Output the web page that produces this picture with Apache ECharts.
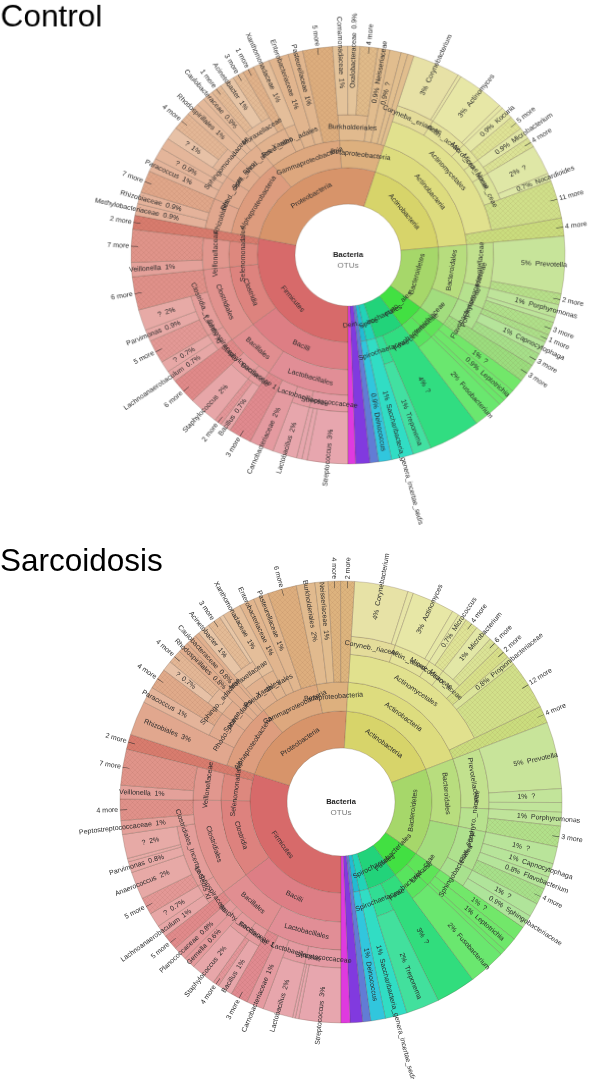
<!DOCTYPE html>
<html>
<head>
<meta charset="utf-8">
<title>Control vs Sarcoidosis</title>
<style>
html,body{margin:0;background:#fff;overflow:hidden}
.panel{position:absolute;left:0;top:0;width:596px;height:1079px}
/* the Control wheel is a little squashed in the original */
#control{transform-origin:348px 255px;transform:scale(1.019,0.981)}
</style>
<script src="https://cdn.jsdelivr.net/npm/echarts@6/dist/echarts.min.js"></script>
</head>
<body>
<div id="control" class="panel"></div>
<div id="sarcoidosis" class="panel"></div>
<script>
// a node is [label, percent] for a leaf or [label, [children]] for a group
const controlFirmicutes = ['Firmicutes', [
  ['Bacilli', [
    ['Lactobacillales', [
      ['Streptococcaceae', [['Streptococcus  3%', 3.0], ['', 0.4], ['', 0.4]]],
      ['Lactobacillaceae', [['Lactobacillus  2%', 1.8]]],
      ['Carnobacteriaceae  2%', 1.8],
      ['3 more', 1.7]]],
    ['Bacillales', [
      ['Bacillaceae 1', [['Bacillus  0.7%', 0.8], ['2 more', 0.55]]],
      ['Staphylococcaceae', [['Staphylococcus  2%', 2.2]]],
      ['6 more', 1.95]]]]],
  ['Clostridia', [
    ['Clostridiales', [
      ['Lachnospiraceae', [['Lachnoanaerobaculum  0.7%', 0.9], ['?  0.7%', 0.85]]],
      ['Clostridia._e Sedis XI', [['5 more', 1.8], ['Parvimonas  0.9%', 0.9], ['?  2%', 1.6]]],
      ['6 more', 2.55]]]]],
  ['Selenomonadales', [
    ['Veillonellaceae', [['Veillonella  1%', 1.1], ['7 more', 2.5]]]]],
  ['2 more', 1.1]]]
const controlProteobacteria = ['Proteobacteria', [
  ['Alphaproteobacteria', [
    ['Rhizobiales', [['Methylobacteriaceae  0.9%', 0.9], ['Rhizobiaceae  0.9%', 0.9], ['7 more', 1.7]]],
    ['Rhod._ceae', [['Paracoccus  1%', 1.05], ['?  0.9%', 0.9], ['', 0.85]]],
    ['Sphi._ales', [['Sphingomonadaceae', [['?  1%', 1.0], ['4 more', 1.4]]]]],
    ['Rhod._ales', [['Rhodospirillales  1%', 1.0], ['', 0.6], ['Caulobacteraceae  0.9%', 0.8]]]]],
  ['Gammaproteobacteria', [
    ['Pseu._ales', [['Moraxellaceae', [['1 more', 0.8], ['Acinetobacter  1%', 1.1], ['3 more', 0.85]]], ['1 more', 0.85]]],
    ['Xantho._adales', [['Xanthomonadaceae  1%', 1.2]]],
    ['Enterobacteriaceae  1%', 1.5],
    ['Pasteurellaceae  1%', 1.1],
    ['5 more', 2.2]]],
  ['Betaproteobacteria', [
    ['Burkholderiales', [['Comamonadaceae  1%', 1.1], ['Oxalobacteraceae  0.9%', 0.9], ['4 more', 1.3]]],
    ['0.9%  Neisseriaceae', 0.9],
    ['0.9%  ?', 0.85],
    ['', 0.5],
    ['', 0.45]]]]]
const controlActinobacteria = ['Actinobacteria', [
  ['Actinobacteria', [
    ['Actinomycetales', [
      ['Coryneba._eriaceae', [['3%  Corynebacterium', 3.55], ['', 0.25]]],
      ['Actin._aceae', [['3%  Actinomyces', 3.55], ['', 0.3]]],
      ['Micro._ceae', [['0.9%  Kocuria', 0.95], ['5 more', 1.1]]],
      ['Micro._aceae', [['0.9%  Microbacterium', 0.9], ['4 more', 0.75]]],
      ['Nocar._ceae', [['2%  ?', 2.3], ['0.7%  Nocardioides', 0.6]]],
      ['11 more', 2.9]]],
    ['4 more', 1.4]]]]]
const controlBacteroidetes = ['Bacteroidetes', [
  ['Bacteroidales', [
    ['Prevotellaceae', [['5%  Prevotella', 4.4], ['2 more', 0.85]]],
    ['Porphyromonadaceae', [['1%  Porphyromonas', 1.0], ['', 0.4], ['3 more', 1.0]]]]],
  ['', [
    ['Flavobacteriaceae', [['1 more', 0.6], ['1%  Capnocytophaga', 1.0], ['3 more', 1.0]]],
    ['3 more', 1.4]]]]]
const controlFusobacteria = ['Fuso._ales', [
  ['Leptotrichiaceae', [['1%  ?', 1.0], ['0.9%  Leptotrichia', 0.95], ['', 0.45]]],
  ['Fusobacteriaceae', [['2%  Fusobacterium', 2.2]]]]]
const controlSpirochaetes = ['Spirochaetales', [
  ['4%  ?', 3.85],
  ['Spirochaetaceae', [['1%  Treponema', 1.35]]]]]
const controlSmall = [
  ['', [['1%  Saccharibacteria_genera_incertae_sedis', 1.65]]],
  ['Dein._..occ', [['0.9%  Deinococcus', 0.95]]],
  ['', 0.65], ['', 1.05], ['', 0.55]]

const sarcFirmicutes = ['Firmicutes', [
  ['Bacilli', [
    ['Lactobacillales', [
      ['Streptococcaceae', [['Streptococcus  3%', 3.05], ['', 0.25], ['', 0.2]]],
      ['Lactobacillaceae', [['Lactobacillus  2%', 2.2]]],
      ['Carnobacteriaceae  1%', 1.25],
      ['3 more', 1.25]]],
    ['Bacillales', [
      ['Bacillaceae 1', [['Bacillus  1%', 1.1], ['4 more', 0.45]]],
      ['Staphy._coccaceae', [['Staphylococcus  2%', 1.8]]],
      ['Gemella  0.6%', 0.85],
      ['Planococcaceae  0.8%', 1.0],
      ['5 more', 1.1]]]]],
  ['Clostridia', [
    ['Clostridiales', [
      ['Lachnospiraceae', [['Lachnoanaerobaculum  1%', 0.9], ['?  0.7%', 1.05]]],
      ['Clostridiales_Incertae Sedis XI', [['5 more', 1.25], ['Anaerococcus  2%', 2.0], ['Parvimonas  0.8%', 0.8], ['', 0.25], ['?  2%', 1.75]]],
      ['Peptostreptococcaceae  1%', 1.0],
      ['4 more', 1.55]]]]],
  ['Selenomonadales', [
    ['Veillonellaceae', [['Veillonella  1%', 1.0], ['7 more', 2.6]]]]],
  ['2 more', 1.1]]]
const sarcProteobacteria = ['Proteobacteria', [
  ['Alphaproteobacteria', [
    ['Rhizobiales  3%', 2.5],
    ['Rhodo._aceae', [['Paracoccus  1%', 1.2], ['4 more', 1.5]]],
    ['Sphin._dales', [['Sphingo._adaceae', [['?  0.7%', 0.75], ['4 more', 1.0]]]]],
    ['Rhodospirillales  0.8%', 0.8],
    ['Caulobacteraceae  0.8%', 0.8],
    ['', 0.3]]],
  ['Gammaproteobacteria', [
    ['Pseud._dales', [['Moraxellaceae', [['Acinetobacter  1%', 0.9], ['3 more', 1.0], ['', 0.3]]]]],
    ['Xanth._dales', [['Xanthomonadaceae  1%', 1.35]]],
    ['Enterobacteriaceae  1%', 1.1],
    ['Pasteurellaceae  1%', 1.1],
    ['6 more', 2.1]]],
  ['Betaproteobacteria', [
    ['Burkholderiales  2%', 1.35],
    ['Neisseriaceae  1%', 0.95],
    ['4 more', 0.9],
    ['2 more', 1.0]]]]]
const sarcActinobacteria = ['Actinobacteria', [
  ['Actinobacteria', [
    ['Actinomycetales', [
      ['Coryneb._riaceae', [['4%  Corynebacterium', 3.9], ['', 0.4]]],
      ['Actin._aceae', [['3%  Actinomyces', 3.1], ['', 0.5]]],
      ['Micrococcaceae', [['0.7%  Micrococcus', 0.65], ['4 more', 0.95]]],
      ['Micro._aceae', [['1%  Microbacterium', 1.25], ['6 more', 0.85]]],
      ['2 more', 0.95],
      ['0.8%  Propionibacteriaceae', 0.65],
      ['12 more', 3.6]]],
    ['4 more', 1.25]]]]]
const sarcBacteroidetes = ['Bacteroidetes', [
  ['Bacteroidales', [
    ['Prevotellaceae', [['5%  Prevotella', 4.85], ['1%  ?', 1.0], ['', 0.7]]],
    ['Porphyro._naceae', [['1%  Porphyromonas', 1.0], ['3 more', 1.5]]]]],
  ['', [
    ['Flav._ceae', [['1%  ?', 1.25], ['1%  Capnocytophaga', 1.0], ['0.8%  Flavobacterium', 0.9], ['4 more', 1.2]]],
    ['Sphingobacteriales', [['1%  ?', 1.0], ['0.9%  Sphingobacteriaceae', 0.95]]]]]]]
const sarcFusobacteria = ['Fusobacteriales', [
  ['Lept._ceae', [['1%  ?', 1.05], ['1%  Leptotrichia', 1.05], ['', 0.4]]],
  ['Fusobacteriaceae', [['2%  Fusobacterium', 2.7]]]]]
const sarcSpirochaetes = ['Spirochaetales', [
  ['3%  ?', 2.9],
  ['Spirochaetaceae', [['2%  Treponema', 2.4]]]]]
const sarcSmall = [
  ['', [['1%  Saccharibacteria_genera_incertae_sedis', 1.6]]],
  ['', [['1%  Deinococcus', 1.05]]],
  ['', 0.6], ['', 0.9], ['', 0.65]]

const controlPhyla = [controlFirmicutes, controlProteobacteria, controlActinobacteria, controlBacteroidetes, controlFusobacteria, controlSpirochaetes, ...controlSmall]
const sarcPhyla = [sarcFirmicutes, sarcProteobacteria, sarcActinobacteria, sarcBacteroidetes, sarcFusobacteria, sarcSpirochaetes, ...sarcSmall]

// hue range and lightness shift per phylum, in drawing order
const phylumHue = [[352, 368], [20, 38], [52, 76], [80, 106], [115, 125], [142, 158], [170, 172], [186, 190], [225, 228], [264, 268], [298, 302]]
const phylumShade = [0, 0, 0, 0, -6, -15, -15, -15, -2, -8, -8]
const depthLight = [0, 63, 68, 72, 75, 78]

const FONT = '"Liberation Sans", Arial, sans-serif'
const blank = { color: 'transparent', borderWidth: 0 }

const sumOf = (node) => Array.isArray(node[1]) ? node[1].reduce((s, c) => s + sumOf(c), 0) : node[1]

// krona marks the collapsed "N more" cells with a fine cross hatch
function hatchFill(color) {
  const c = document.createElement('canvas')
  c.width = c.height = 5
  const g = c.getContext('2d')
  g.fillStyle = color
  g.fillRect(0, 0, 5, 5)
  g.strokeStyle = 'rgba(120,70,50,0.11)'
  g.lineWidth = 0.7
  g.beginPath()
  g.moveTo(0, 0); g.lineTo(5, 5)
  g.moveTo(5, 0); g.lineTo(0, 5)
  g.stroke()
  return { image: c, repeat: 'repeat' }
}

function buildSunburst(phyla, rings, cx, cy) {
  const R = rings[5]
  const overlays = [[], [], [], [], []]
  const total = phyla.reduce((s, p) => s + sumOf(p), 0)
  let done = 0

  const styleFor = (name, depth, p, t) => {
    const [h0, h1] = phylumHue[p]
    const more = /more$/.test(name)
    const pull = p > 0 && p < 4 ? (5 - depth) * 1.5 : 0
    const hue = (h0 + (h1 - h0) * t - pull + 360) % 360
    const light = depthLight[depth] + phylumShade[p] - (more ? 4 : 0)
    const color = `hsl(${hue},${phylumShade[p] < -5 ? 72 : 58}%,${light}%)`
    return {
      color: more ? hatchFill(color) : color,
      borderColor: 'rgba(90,70,50,0.4)', borderWidth: 0.6
    }
  }

  const leafLabel = (name, depth, mid) => {
    if (!name) return { show: false }
    if (name.includes('%')) {
      const r0 = rings[depth - 1]
      return { rotate: 'radial', align: 'left', distance: (R - r0) / 2 - 8 }
    }
    // "N more" sits outside the rim with a small leader
    return {
      rotate: 'radial', position: 'outside', distance: -7,
      formatter: mid < 180 ? name + ' \u2014' : '\u2014 ' + name
    }
  }

  const walk = (node, depth, p, pStart, pSum) => {
    const [name, body] = node
    const from = done
    if (!Array.isArray(body)) {
      done += body
      const mid = (from + body / 2) / total * 360
      const t = (from + body / 2 - pStart) / pSum
      const style = styleFor(name, depth, p, t)
      const label = leafLabel(name, depth, mid)
      for (let d = 1; d < 5; d++) {
        const list = overlays[d]
        if (d === depth) {
          list.push({ name, value: body, itemStyle: style, label })
        } else if (list.length && list[list.length - 1].gap) {
          list[list.length - 1].value += body
        } else {
          list.push({ name: '', value: body, gap: true, itemStyle: blank, label: { show: false } })
        }
      }
      if (depth === 5) return { name, value: body, itemStyle: style, label }
      return { name: '', value: body, itemStyle: blank, label: { show: false } }
    }
    const size = sumOf(node)
    const t = (from + size / 2 - pStart) / pSum
    const children = body.map((c) => walk(c, depth + 1, p, pStart, pSum))
    return {
      name, children, itemStyle: styleFor(name, depth, p, t),
      label: name ? { rotate: 'tangential' } : { show: false }
    }
  }

  const tree = phyla.map((ph, i) => walk(ph, 1, i, done, sumOf(ph)))
  const shared = {
    type: 'sunburst', center: [cx, cy], sort: null, startAngle: 270,
    nodeClick: false, silent: true, animation: false, emphasis: { focus: 'none' },
    label: { fontFamily: FONT, fontSize: 7, color: '#2b2b2b', minAngle: 0 }
  }
  const levels = [{}]
  for (let d = 1; d <= 5; d++) levels.push({ r0: rings[d - 1], r: rings[d] })
  const series = [{ ...shared, radius: [rings[0], R], levels, data: tree }]
  for (let d = 1; d < 5; d++) {
    if (!overlays[d].some((item) => !item.gap)) continue
    series.push({
      ...shared, radius: [rings[d - 1], R],
      levels: [{}, { r0: rings[d - 1], r: R }], data: overlays[d]
    })
  }
  return series
}

const controlRings = [52, 89, 117, 143, 160, 213]
const sarcRings = [54, 91, 120, 148, 166, 221]

const heading = (text, left, top, size) => ({
  text, left, top, padding: 0,
  textStyle: { fontFamily: FONT, fontSize: size, fontWeight: 'normal', color: '#000' }
})
const hub = (x, y) => ({
  text: 'Bacteria', subtext: 'OTUs', left: x, top: y, padding: 0, itemGap: 3, textAlign: 'center',
  textStyle: { fontFamily: FONT, fontSize: 7.5, fontWeight: 'bold', color: '#222' },
  subtextStyle: { fontFamily: FONT, fontSize: 8, color: '#777' }
})

const controlChart = echarts.init(document.getElementById('control'))
controlChart.setOption({
  animation: false,
  title: [heading('Control', 7, -2, 31), hub(348, 251)],
  series: buildSunburst(controlPhyla, controlRings, 348, 255)
})
const sarcChart = echarts.init(document.getElementById('sarcoidosis'))
sarcChart.setOption({
  animation: false,
  title: [heading('Sarcoidosis', 0, 546, 31.5), hub(341, 798)],
  series: buildSunburst(sarcPhyla, sarcRings, 341, 802)
})
</script>
</body>
</html>
